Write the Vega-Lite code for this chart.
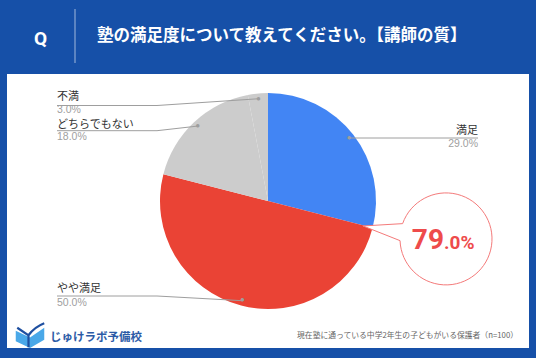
{
  "$schema": "https://vega.github.io/schema/vega-lite/v6.json",
  "width": 536,
  "height": 314,
  "autosize": "none",
  "padding": {"left": 0, "right": 0, "top": 44, "bottom": 0},
  "background": "#1650A8",
  "config": {"view": {"stroke": null}, "text": {"font": "Noto Sans CJK JP"}},
  "data": {"values": [
    {"no": 1, "cat": "満足", "value": 0.29},
    {"no": 2, "cat": "やや満足", "value": 0.50},
    {"no": 3, "cat": "どちらでもない", "value": 0.18},
    {"no": 4, "cat": "不満", "value": 0.03}
  ]},
  "layer": [
    {"data": {"values": [{}]}, "mark": {"type": "rect", "fill": "#ffffff"}, "encoding": {"x": {"value": 7}, "x2": {"value": 529}, "y": {"value": 30}, "y2": {"value": 304}}},
    {"data": {"values": [{}]}, "mark": {"type": "text", "text": "Q", "font": "Roboto", "fontSize": 19, "fontWeight": "bold", "color": "#ffffff", "align": "center", "baseline": "middle"}, "encoding": {"x": {"value": 40.5}, "y": {"value": -5}}},
    {"data": {"values": [{}]}, "mark": {"type": "rule", "color": "#ffffff", "opacity": 0.6, "strokeWidth": 1}, "encoding": {"x": {"value": 75}, "y": {"value": -35}, "y2": {"value": 19}}},
    {"data": {"values": [{}]}, "mark": {"type": "text", "text": "塾の満足度について教えてください。【講師の質】", "fontSize": 16.5, "fontWeight": "bold", "color": "#ffffff", "align": "left", "baseline": "middle"}, "encoding": {"x": {"value": 97}, "y": {"value": -8}}},
    {
      "encoding": {
        "theta": {"field": "value", "type": "quantitative", "stack": true},
        "order": {"field": "no", "type": "quantitative"}
      },
      "layer": [
        {"mark": {"type": "arc", "outerRadius": 108}, "encoding": {"color": {"field": "cat", "type": "nominal", "scale": {"domain": ["満足", "やや満足", "どちらでもない", "不満"], "range": ["#4285F4", "#EA4335", "#CCCCCC", "#CCCCCC"]}, "legend": null}}},
        {"mark": {"type": "text", "text": "●", "font": "DejaVu Sans", "radius": 102.5, "fontSize": 4.5, "color": "#9E9E9E", "align": "center", "baseline": "middle"}, "encoding": {"detail": {"field": "cat", "type": "nominal"}}}
      ]
    },
    {"data": {"values": [{}]}, "mark": {"type": "rule", "color": "#9E9E9E", "strokeWidth": 1}, "encoding": {"x": {"value": 57}, "x2": {"value": 157}, "y": {"value": 61.5}, "y2": {"value": 61.5}}},
    {"data": {"values": [{}]}, "mark": {"type": "rule", "color": "#9E9E9E", "strokeWidth": 1}, "encoding": {"x": {"value": 157}, "x2": {"value": 259.3}, "y": {"value": 61.5}, "y2": {"value": 54.7}}},
    {"data": {"values": [{}]}, "mark": {"type": "rule", "color": "#9E9E9E", "strokeWidth": 1}, "encoding": {"x": {"value": 57}, "x2": {"value": 157}, "y": {"value": 86.7}, "y2": {"value": 86.7}}},
    {"data": {"values": [{}]}, "mark": {"type": "rule", "color": "#9E9E9E", "strokeWidth": 1}, "encoding": {"x": {"value": 157}, "x2": {"value": 198.3}, "y": {"value": 86.7}, "y2": {"value": 82}}},
    {"data": {"values": [{}]}, "mark": {"type": "rule", "color": "#9E9E9E", "strokeWidth": 1}, "encoding": {"x": {"value": 349}, "x2": {"value": 478}, "y": {"value": 94}, "y2": {"value": 94}}},
    {"data": {"values": [{}]}, "mark": {"type": "rule", "color": "#9E9E9E", "strokeWidth": 1}, "encoding": {"x": {"value": 57}, "x2": {"value": 157}, "y": {"value": 252}, "y2": {"value": 252}}},
    {"data": {"values": [{}]}, "mark": {"type": "rule", "color": "#9E9E9E", "strokeWidth": 1}, "encoding": {"x": {"value": 157}, "x2": {"value": 242.3}, "y": {"value": 252}, "y2": {"value": 256.7}}},
    {
      "transform": [{"filter": "datum.cat === '不満'"}],
      "layer": [
        {"mark": {"type": "text", "align": "left", "baseline": "middle", "fontSize": 11, "color": "#333333"}, "encoding": {"text": {"field": "cat", "type": "nominal"}, "x": {"value": 57}, "y": {"value": 53.3}}},
        {"mark": {"type": "text", "align": "left", "baseline": "middle", "fontSize": 10.5, "font": "Liberation Sans", "color": "#A0A0A0"}, "encoding": {"text": {"field": "value", "type": "quantitative", "format": ".1%"}, "x": {"value": 57}, "y": {"value": 66.3}}}
      ]
    },
    {
      "transform": [{"filter": "datum.cat === 'どちらでもない'"}],
      "layer": [
        {"mark": {"type": "text", "align": "left", "baseline": "middle", "fontSize": 11, "color": "#333333"}, "encoding": {"text": {"field": "cat", "type": "nominal"}, "x": {"value": 57}, "y": {"value": 81.3}}},
        {"mark": {"type": "text", "align": "left", "baseline": "middle", "fontSize": 10.5, "font": "Liberation Sans", "color": "#A0A0A0"}, "encoding": {"text": {"field": "value", "type": "quantitative", "format": ".1%"}, "x": {"value": 57}, "y": {"value": 93.3}}}
      ]
    },
    {
      "transform": [{"filter": "datum.cat === '満足'"}],
      "layer": [
        {"mark": {"type": "text", "align": "right", "baseline": "middle", "fontSize": 11, "color": "#333333"}, "encoding": {"text": {"field": "cat", "type": "nominal"}, "x": {"value": 478}, "y": {"value": 86.7}}},
        {"mark": {"type": "text", "align": "right", "baseline": "middle", "fontSize": 10.5, "font": "Liberation Sans", "color": "#A0A0A0"}, "encoding": {"text": {"field": "value", "type": "quantitative", "format": ".1%"}, "x": {"value": 478}, "y": {"value": 100.3}}}
      ]
    },
    {
      "transform": [{"filter": "datum.cat === 'やや満足'"}],
      "layer": [
        {"mark": {"type": "text", "align": "left", "baseline": "middle", "fontSize": 11, "color": "#333333"}, "encoding": {"text": {"field": "cat", "type": "nominal"}, "x": {"value": 57}, "y": {"value": 245.3}}},
        {"mark": {"type": "text", "align": "left", "baseline": "middle", "fontSize": 10.5, "font": "Liberation Sans", "color": "#A0A0A0"}, "encoding": {"text": {"field": "value", "type": "quantitative", "format": ".1%"}, "x": {"value": 57}, "y": {"value": 259.3}}}
      ]
    },
    {"data": {"values": [{}]}, "mark": {"type": "point", "shape": "M -0.943 -0.334 A 1 1 0 1 1 -0.999 0.036 L -1.804 -0.283 Z", "size": 8464, "filled": true, "fill": "#ffffff", "stroke": "#F47A7A", "strokeWidth": 1, "opacity": 1}, "encoding": {"x": {"value": 446}, "y": {"value": 195}}},
    {"data": {"values": [{}]}, "mark": {"type": "text", "text": "79", "font": "Roboto", "fontWeight": "bold", "fontSize": 28, "color": "#EE4B4B", "align": "right", "baseline": "alphabetic"}, "encoding": {"x": {"value": 444}, "y": {"value": 205}}},
    {"data": {"values": [{}]}, "mark": {"type": "text", "text": ".0%", "font": "Roboto", "fontWeight": "bold", "fontSize": 19, "color": "#EE4B4B", "align": "left", "baseline": "alphabetic"}, "encoding": {"x": {"value": 444}, "y": {"value": 205}}},
    {"data": {"values": [{}]}, "mark": {"type": "point", "shape": "M -0.95 -0.35 L 0 0.1 L 0.95 -0.55 L 0.95 0.25 L 0 0.8 L -0.95 0.35 Z", "size": 900, "filled": true, "fill": "#4AA8E8", "opacity": 1}, "encoding": {"x": {"value": 30}, "y": {"value": 292}}},
    {"data": {"values": [{}]}, "mark": {"type": "point", "shape": "M -0.85 -0.55 L -0.1 -0.05 L -0.1 0.75 M -0.1 -0.05 Q 0.3 -0.6 0.95 -0.85", "size": 900, "filled": false, "stroke": "#1E4FA0", "strokeWidth": 2.2, "opacity": 1}, "encoding": {"x": {"value": 30}, "y": {"value": 292}}},
    {"data": {"values": [{}]}, "mark": {"type": "text", "text": "じゅけラボ予備校", "fontSize": 11.5, "fontWeight": "bold", "color": "#2C5BA6", "align": "left", "baseline": "middle"}, "encoding": {"x": {"value": 50}, "y": {"value": 294}}},
    {"data": {"values": [{}]}, "mark": {"type": "text", "text": "現在塾に通っている中学2年生の子どもがいる保護者（n=100）", "fontSize": 7.8, "color": "#666666", "align": "right", "baseline": "middle"}, "encoding": {"x": {"value": 518}, "y": {"value": 291.7}}}
  ]
}
